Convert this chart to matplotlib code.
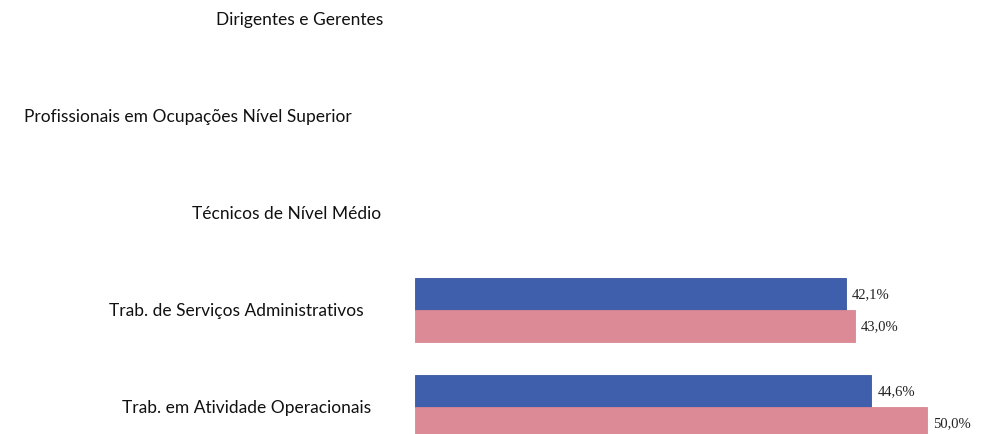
import matplotlib.pyplot as plt
import numpy as np

# categorias (de cima para baixo)
categorias = ["Dirigentes e Gerentes",
              "Profissionais em Ocupações Nível Superior",
              "Técnicos de Nível Médio",
              "Trab. de Serviços Administrativos",
              "Trab. em Atividade Operacionais"]
serie_azul = [np.nan, np.nan, np.nan, 42.1, 44.6]
serie_rosa = [np.nan, np.nan, np.nan, 43.0, 50.0]

# posicao horizontal (px) do fim de cada rotulo, como no original
fim_rotulo = [383, 352, 381, 364, 371]

cor_azul = "#3F5EAB"
cor_rosa = "#DC8A96"

W, H = 991, 435
fig = plt.figure(figsize=(W / 100, H / 100), dpi=100)
ax = fig.add_axes([415 / W, 0, 1 - 415 / W, 1])

y = np.arange(len(categorias))
h = 0.33
ax.barh(y - h / 2, serie_azul, height=h, color=cor_azul, edgecolor="#3A56A0", linewidth=0.6)
ax.barh(y + h / 2, serie_rosa, height=h, color=cor_rosa, edgecolor="#D98692", linewidth=0.6)

for i in range(len(categorias)):
    for v, dy in ((serie_azul[i], -h / 2), (serie_rosa[i], h / 2)):
        if not np.isnan(v):
            ax.text(v + 0.6, y[i] + dy, f"{v:.1f}%".replace(".", ","),
                    va="center", ha="left", fontsize=10.5,
                    family="Liberation Serif", color="#222222")

ax.set_xlim(0, (W - 415) / 10.23)
ax.set_ylim(415 / 97, -20 / 97)
ax.axis("off")

# rotulos das categorias
for i, nome in enumerate(categorias):
    fig.text(fim_rotulo[i] / W, 1 - (20 + 97 * i) / H, nome,
             ha="right", va="center", fontsize=12.5, family="Lato", color="#111111")

fig.savefig("out.png", dpi=100)
